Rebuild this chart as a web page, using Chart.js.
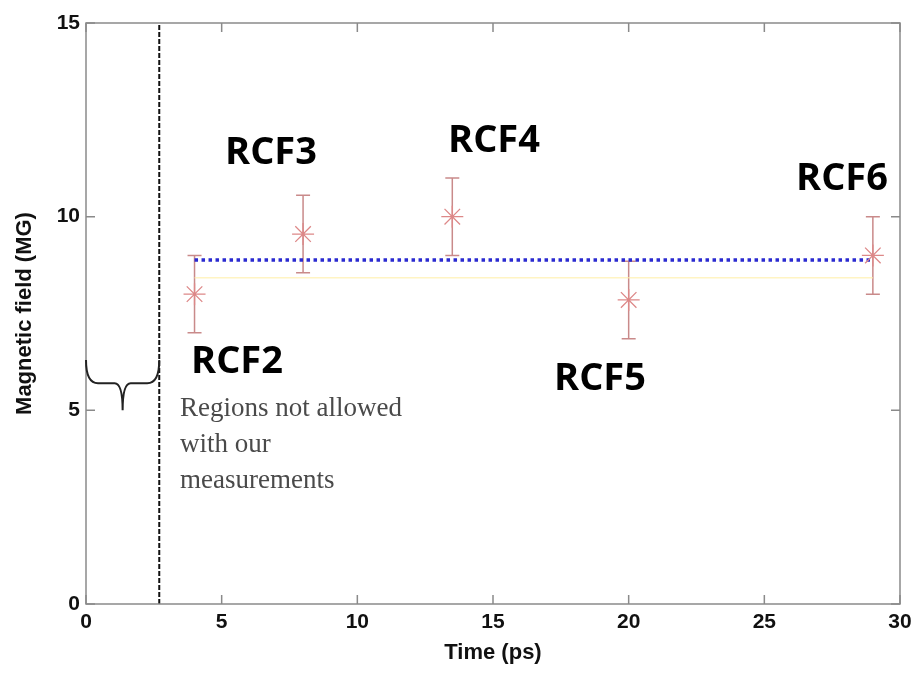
<!DOCTYPE html>
<html>
<head>
<meta charset="utf-8">
<title>Magnetic field vs time</title>
<script src="https://cdn.jsdelivr.net/npm/chart.js@4.4.0/dist/chart.umd.min.js"></script>
<style>
  html, body { margin: 0; padding: 0; background: #fff; }
  #wrap { width: 924px; height: 674px; }
</style>
</head>
<body>
<div id="wrap"><canvas id="chart" width="924" height="674"></canvas></div>
<script>
// --- data ---
const times = [4, 8, 13.5, 20, 29];
const fields = [8.0, 9.55, 10.0, 7.85, 9.0];
const errors = [1.0, 1.0, 1.0, 1.0, 1.0];
const labels = ['RCF2', 'RCF3', 'RCF4', 'RCF5', 'RCF6'];
const meanField = 8.88;
const yellowField = 8.42;
const limitTime = 2.7;
const xTicks = [0, 5, 10, 15, 20, 25, 30];
const yTicks = [0, 5, 10, 15];
const noteLines = ['Regions not allowed', 'with our', 'measurements'];

// where the RCF labels sit (pixel anchors)
const labelPos = [[237, 373], [271, 164], [494, 152], [600, 390], [842, 190]];

const axisFont = { family: 'Liberation Sans, Arial, sans-serif', size: 21, weight: 'bold' };
const titleFont = { family: 'Liberation Sans, Arial, sans-serif', size: 22, weight: 'bold' };

// error bars, brace, frame, inward ticks, text
const extras = {
    id: 'extras',
    beforeDatasetsDraw(chart) {
        const ctx = chart.ctx;
        const xs = chart.scales.x, ys = chart.scales.y;
        ctx.save();
        ctx.strokeStyle = '#c98a8a';
        ctx.lineWidth = 1.5;
        times.forEach((t, i) => {
            const px = xs.getPixelForValue(t);
            const top = ys.getPixelForValue(fields[i] + errors[i]);
            const bot = ys.getPixelForValue(fields[i] - errors[i]);
            ctx.beginPath();
            ctx.moveTo(px, top); ctx.lineTo(px, bot);
            ctx.moveTo(px - 7, top); ctx.lineTo(px + 7, top);
            ctx.moveTo(px - 7, bot); ctx.lineTo(px + 7, bot);
            ctx.stroke();
        });
        ctx.restore();
    },
    afterDraw(chart) {
        const ctx = chart.ctx;
        const a = chart.chartArea;
        const xs = chart.scales.x, ys = chart.scales.y;
        ctx.save();

        // frame
        ctx.strokeStyle = '#8a8a8a';
        ctx.lineWidth = 1.5;
        ctx.strokeRect(a.left, a.top, a.right - a.left, a.bottom - a.top);

        // inward ticks
        ctx.beginPath();
        xTicks.forEach(v => {
            const px = xs.getPixelForValue(v);
            ctx.moveTo(px, a.bottom); ctx.lineTo(px, a.bottom - 9);
            ctx.moveTo(px, a.top); ctx.lineTo(px, a.top + 9);
        });
        yTicks.forEach(v => {
            const py = ys.getPixelForValue(v);
            ctx.moveTo(a.left, py); ctx.lineTo(a.left + 9, py);
            ctx.moveTo(a.right, py); ctx.lineTo(a.right - 9, py);
        });
        ctx.stroke();

        // curly brace over the forbidden region
        const bx0 = xs.getPixelForValue(0), bx1 = xs.getPixelForValue(limitTime);
        const bm = (bx0 + bx1) / 2;
        const yTip = ys.getPixelForValue(6.3), yMid = ys.getPixelForValue(5.7), yPt = ys.getPixelForValue(5.0);
        ctx.strokeStyle = '#222';
        ctx.lineWidth = 2;
        ctx.beginPath();
        ctx.moveTo(bx0, yTip);
        ctx.quadraticCurveTo(bx0, yMid, bx0 + 12, yMid);
        ctx.lineTo(bm - 8, yMid);
        ctx.quadraticCurveTo(bm, yMid, bm, yPt);
        ctx.moveTo(bm, yPt);
        ctx.quadraticCurveTo(bm, yMid, bm + 8, yMid);
        ctx.lineTo(bx1 - 12, yMid);
        ctx.quadraticCurveTo(bx1, yMid, bx1, yTip);
        ctx.stroke();

        // note text
        ctx.fillStyle = '#4a4a4a';
        ctx.font = '27px "Liberation Serif", "Times New Roman", serif';
        ctx.textAlign = 'left';
        ctx.textBaseline = 'alphabetic';
        noteLines.forEach((line, i) => ctx.fillText(line, 180, 416 + i * 36));

        // RCF labels
        ctx.fillStyle = '#000';
        ctx.font = 'bold 38px "Open Sans", "Noto Sans", sans-serif';
        ctx.textAlign = 'center';
        labels.forEach((txt, i) => ctx.fillText(txt, labelPos[i][0], labelPos[i][1]));

        ctx.restore();
    }
};

new Chart(document.getElementById('chart'), {
    type: 'scatter',
    data: {
        datasets: [
            {
                label: 'limit',
                type: 'line',
                data: [{ x: limitTime, y: 0 }, { x: limitTime, y: 15 }],
                borderColor: '#111',
                borderWidth: 2,
                borderDash: [5, 2],
                pointRadius: 0,
                order: 3
            },
            {
                label: 'yellow',
                type: 'line',
                data: [{ x: times[0], y: yellowField }, { x: times[times.length - 1], y: yellowField }],
                borderColor: 'rgba(255, 240, 170, 0.7)',
                borderWidth: 1.5,
                pointRadius: 0,
                order: 2
            },
            {
                label: 'mean',
                type: 'line',
                data: [{ x: times[0], y: meanField }, { x: times[times.length - 1], y: meanField }],
                borderColor: '#2a2ad0',
                borderWidth: 3.5,
                borderDash: [3.5, 3.5],
                pointRadius: 0,
                order: 1
            },
            {
                label: 'field',
                data: times.map((t, i) => ({ x: t, y: fields[i] })),
                pointStyle: 'star',
                pointRadius: 11,
                borderColor: '#dd8888',
                borderWidth: 1.3,
                backgroundColor: '#dd8888',
                order: 0
            }
        ]
    },
    options: {
        responsive: false,
        animation: false,
        layout: { padding: { top: 23, right: 24, left: 0, bottom: 0 } },
        plugins: { legend: { display: false }, tooltip: { enabled: false } },
        scales: {
            x: {
                type: 'linear',
                min: 0, max: 30,
                afterFit(s) { s.height = 70; },
                afterBuildTicks(s) { s.ticks = xTicks.map(v => ({ value: v })); },
                grid: { display: false },
                border: { display: false },
                ticks: { color: '#111', font: axisFont, padding: -2 },
                title: { display: true, text: 'Time (ps)', color: '#111', font: titleFont, padding: { top: 0, bottom: 8 } }
            },
            y: {
                type: 'linear',
                min: 0, max: 15,
                afterFit(s) { s.width = 86; },
                afterBuildTicks(s) { s.ticks = yTicks.map(v => ({ value: v })); },
                grid: { display: false },
                border: { display: false },
                ticks: { color: '#111', font: axisFont, padding: -2 },
                title: { display: true, text: 'Magnetic field (MG)', color: '#111', font: titleFont, padding: { top: 12, bottom: 0 } }
            }
        }
    },
    plugins: [extras]
});
</script>
</body>
</html>
